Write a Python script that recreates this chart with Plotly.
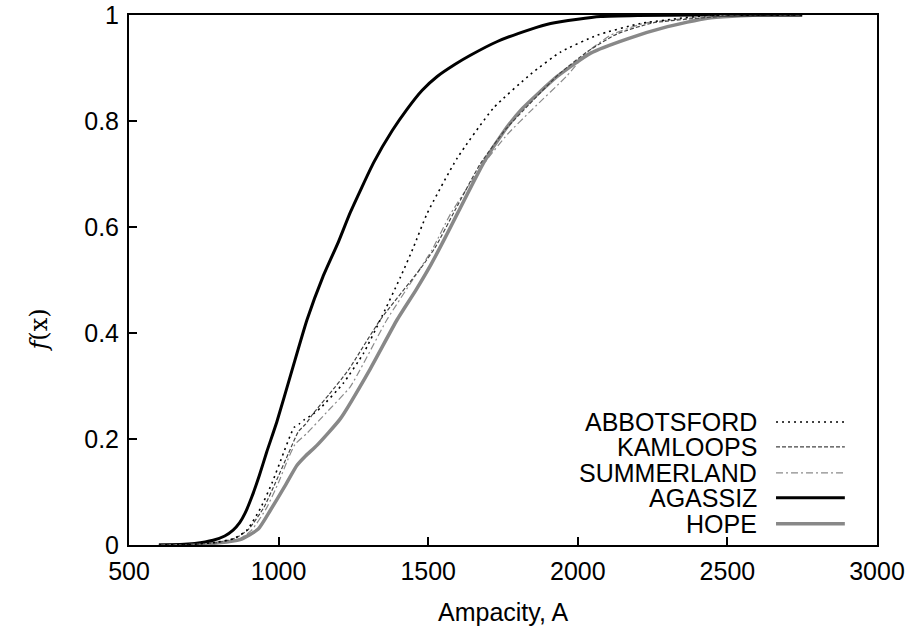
import plotly.graph_objects as go

# ---- data ----
names = ["ABBOTSFORD", "KAMLOOPS", "SUMMERLAND", "AGASSIZ", "HOPE"]

abbotsford_x = [600, 700, 790, 850, 894, 940, 978, 1016, 1040, 1052, 1068, 1085, 1110, 1139, 1216, 1284, 1340, 1407, 1451, 1496, 1597, 1719, 1842, 1942, 2065, 2210, 2450, 2750]
abbotsford_y = [0, 0.001, 0.005, 0.012, 0.028, 0.07, 0.117, 0.173, 0.208, 0.222, 0.228, 0.236, 0.245, 0.258, 0.305, 0.362, 0.425, 0.505, 0.562, 0.625, 0.73, 0.825, 0.888, 0.93, 0.962, 0.984, 1.0, 1.0]

kamloops_x = [600, 700, 800, 860, 900, 950, 989, 1033, 1066, 1090, 1117, 1170, 1233, 1340, 1475, 1524, 1590, 1675, 1760, 1835, 1940, 2035, 2130, 2250, 2550, 2750]
kamloops_y = [0, 0.001, 0.005, 0.014, 0.03, 0.07, 0.117, 0.173, 0.214, 0.228, 0.249, 0.285, 0.33, 0.425, 0.522, 0.562, 0.632, 0.72, 0.785, 0.83, 0.89, 0.932, 0.964, 0.985, 1.0, 1.0]

summerland_x = [600, 700, 800, 870, 910, 960, 999, 1030, 1055, 1095, 1160, 1240, 1362, 1470, 1513, 1575, 1680, 1765, 1850, 1965, 2032, 2110, 2220, 2500, 2750]
summerland_y = [0, 0.001, 0.004, 0.012, 0.028, 0.07, 0.117, 0.16, 0.19, 0.211, 0.25, 0.299, 0.425, 0.519, 0.557, 0.625, 0.715, 0.775, 0.823, 0.886, 0.93, 0.962, 0.984, 1.0, 1.0]

agassiz_x = [600, 670, 720, 781, 820, 848, 870, 888, 910, 935, 960, 994, 1044, 1095, 1148, 1200, 1240, 1318, 1380, 1429, 1480, 1530, 1590, 1641, 1731, 1842, 1909, 2000, 2076, 2200, 2400, 2750]
agassiz_y = [0, 0.001, 0.003, 0.009, 0.017, 0.028, 0.042, 0.06, 0.09, 0.13, 0.175, 0.232, 0.328, 0.425, 0.506, 0.572, 0.628, 0.722, 0.782, 0.822, 0.858, 0.884, 0.907, 0.924, 0.95, 0.973, 0.984, 0.992, 0.997, 0.999, 1.0, 1.0]

hope_x = [600, 700, 800, 871, 932, 972, 1020, 1061, 1090, 1128, 1206, 1306, 1396, 1460, 1510, 1555, 1600, 1686, 1750, 1809, 1931, 2043, 2166, 2300, 2433, 2600, 2750]
hope_y = [0, 0.001, 0.004, 0.01, 0.03, 0.065, 0.11, 0.15, 0.168, 0.188, 0.238, 0.332, 0.425, 0.482, 0.53, 0.578, 0.628, 0.722, 0.778, 0.82, 0.884, 0.928, 0.955, 0.978, 0.994, 1.0, 1.0]

x_ticks = [500, 1000, 1500, 2000, 2500, 3000]
y_ticks = [0, 0.2, 0.4, 0.6, 0.8, 1]
y_ticklabels = ["0", "0.2", "0.4", "0.6", "0.8", "1"]

# ---- styles ----
styles = [
    dict(color="#000000", width=1.6, dash="2px,4px"),
    dict(color="#444444", width=1.2, dash="4px,2px"),
    dict(color="#8a8a8a", width=1.2, dash="7px,3px,2px,3px"),
    dict(color="#000000", width=3.0, dash="solid"),
    dict(color="#888888", width=3.5, dash="solid"),
]
series = [
    (abbotsford_x, abbotsford_y),
    (kamloops_x, kamloops_y),
    (summerland_x, summerland_y),
    (agassiz_x, agassiz_y),
    (hope_x, hope_y),
]

FONT = "Liberation Sans, Arial, Helvetica, sans-serif"

fig = go.Figure()
order = [4, 3, 2, 1, 0]
for i in order:
    xs, ys = series[i]
    fig.add_trace(go.Scatter(x=xs, y=ys, mode="lines", name=names[i],
                             line=dict(shape="spline", smoothing=0.5, **styles[i]),
                             showlegend=False))

# legend drawn gnuplot-style (text left, line sample right)
leg_y = [0.232, 0.185, 0.136, 0.089, 0.040]
for i, nm in enumerate(names):
    fig.add_annotation(xref="paper", yref="paper", x=0.842, y=leg_y[i], text=nm,
                       showarrow=False, xanchor="right", yanchor="middle",
                       font=dict(family=FONT, size=25, color="black"))
    fig.add_shape(type="line", xref="paper", yref="paper",
                  x0=0.865, x1=0.957, y0=leg_y[i], y1=leg_y[i],
                  line=styles[i])

fig.add_annotation(xref="paper", yref="paper", x=0.5, y=-0.126, text="Ampacity, A",
                   showarrow=False, xanchor="center", yanchor="middle",
                   font=dict(family=FONT, size=25, color="black"))
fig.add_annotation(xref="paper", yref="paper", x=-0.12, y=0.405,
                   text="<i>f</i>(x)", textangle=-90,
                   showarrow=False, xanchor="center", yanchor="middle",
                   font=dict(family="DejaVu Serif, serif", size=24, color="black"))

fig.update_layout(
    width=913, height=627,
    margin=dict(l=129, r=36, t=15, b=82, autoexpand=False),
    paper_bgcolor="white", plot_bgcolor="white",
    font=dict(family=FONT, size=25, color="black"),
    showlegend=False,
)
fig.update_xaxes(range=[500, 3000], tickvals=x_ticks, ticks="inside", ticklen=8,
                 tickwidth=1.5, tickcolor="black", showgrid=False, zeroline=False,
                 showline=True, linecolor="black", linewidth=2, mirror=True,
                 automargin=False, ticklabeloverflow="allow",
                 ticklabelstandoff=3, tickfont=dict(family=FONT, size=25))
fig.update_yaxes(range=[0, 1], tickvals=y_ticks, ticktext=y_ticklabels, ticks="inside",
                 ticklen=8, tickwidth=1.5, tickcolor="black", showgrid=False,
                 zeroline=False, showline=True, linecolor="black", linewidth=2,
                 mirror=True, automargin=False, ticklabeloverflow="allow",
                 ticklabelstandoff=3, tickfont=dict(family=FONT, size=25))

# remove the default 8px page margin so the 913x627 figure fills the window
fig.write_html("out.html", config={"displayModeBar": False},
               post_script="document.body.style.margin='0';")
